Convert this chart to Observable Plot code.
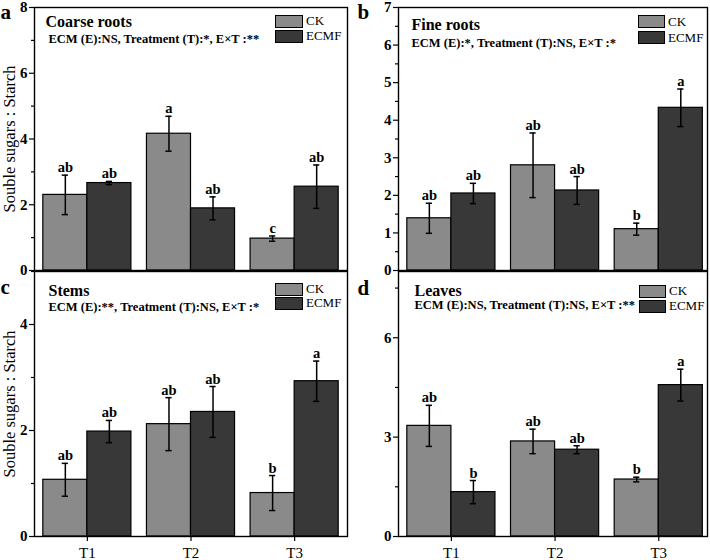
<!DOCTYPE html>
<html>
<head>
<meta charset="utf-8">
<script src="https://cdn.jsdelivr.net/npm/d3@7"></script>
<script src="https://cdn.jsdelivr.net/npm/@observablehq/plot@0.6"></script>
<style>
  body { margin: 0; background: #fff; }
  #chart { position: relative; width: 710px; height: 560px; overflow: hidden; font-family: "Liberation Serif", "Times New Roman", serif; }
  #chart svg { position: absolute; }
  .lg-box { position: absolute; border: 1px solid #000; box-sizing: border-box; }
  .lg-txt { position: absolute; font-size: 13px; color: #000; white-space: nowrap; }
</style>
</head>
<body>
<div id="chart"></div>
<script>
// ---------- data ----------
const treatments = ["T1", "T2", "T3"];
const groups = ["CK", "ECMF"];
const groupColors = ["#8a8a8a", "#383838"];

const panelLetters = ["a", "b", "c", "d"];
const titles = ["Coarse roots", "Fine roots", "Stems", "Leaves"];
const subtitles = [
  "ECM (E):NS, Treatment (T):*, E\u00d7T :**",
  "ECM (E):*, Treatment (T):NS, E\u00d7T :*",
  "ECM (E):**, Treatment (T):NS, E\u00d7T :*",
  "ECM (E):NS, Treatment (T):NS, E\u00d7T :**"
];
const yLabel = "Souble sugars : Starch";

// Coarse roots
const coarseCK = [2.30, 4.16, 0.97];
const coarseCKErr = [0.60, 0.53, 0.08];
const coarseECMF = [2.66, 1.89, 2.55];
const coarseECMFErr = [0.05, 0.35, 0.66];
const coarseCKLetters = ["ab", "a", "c"];
const coarseECMFLetters = ["ab", "ab", "ab"];
const coarseTicks = [0, 2, 4, 6, 8];
const coarseMinor = [1, 3, 5, 7];

// Fine roots
const fineCK = [1.39, 2.80, 1.10];
const fineCKErr = [0.40, 0.86, 0.16];
const fineECMF = [2.05, 2.13, 4.33];
const fineECMFErr = [0.27, 0.37, 0.50];
const fineCKLetters = ["ab", "ab", "b"];
const fineECMFLetters = ["ab", "ab", "a"];
const fineTicks = [0, 1, 2, 3, 4, 5, 6, 7];
const fineMinor = [0.5, 1.5, 2.5, 3.5, 4.5, 5.5, 6.5];

// Stems
const stemsCK = [1.07, 2.12, 0.82];
const stemsCKErr = [0.31, 0.50, 0.33];
const stemsECMF = [1.98, 2.35, 2.93];
const stemsECMFErr = [0.21, 0.48, 0.38];
const stemsCKLetters = ["ab", "ab", "b"];
const stemsECMFLetters = ["ab", "ab", "a"];
const stemsTicks = [0, 2, 4];
const stemsMinor = [1, 3, 5];

// Leaves
const leavesCK = [3.34, 2.87, 1.72];
const leavesCKErr = [0.62, 0.37, 0.07];
const leavesECMF = [1.34, 2.62, 4.57];
const leavesECMFErr = [0.35, 0.12, 0.48];
const leavesCKLetters = ["ab", "ab", "b"];
const leavesECMFLetters = ["b", "ab", "a"];
const leavesTicks = [0, 3, 6];
const leavesMinor = [1.5, 4.5, 7.5];

// ---------- layout ----------
const FONT = "'Liberation Serif', 'Times New Roman', serif";
const BAR_W = 0.425;   // bar width in x units
const CAP = 0.03;      // half cap width in x units

const panels = [
  { idx: 0, ck: coarseCK, ckErr: coarseCKErr, ec: coarseECMF, ecErr: coarseECMFErr, ckL: coarseCKLetters, ecL: coarseECMFLetters,
    ymax: 8, major: coarseTicks, minor: coarseMinor, left: 0, top: 0, width: 355, height: 275,
    mL: 34, mR: 8, mT: 7, mB: 5, xdom: [0.49, 3.51], showX: false, showYLabel: true,
    letterDx: -34, letterDy: 11, titleDx: 11, titleDy: 19, subDx: 14, subDy: 35,
    legend: { x: 275, w: 28, h: 12.5, y1: 15, y2: 30, tx: 306 } },
  { idx: 1, ck: fineCK, ckErr: fineCKErr, ec: fineECMF, ecErr: fineECMFErr, ckL: fineCKLetters, ecL: fineECMFLetters,
    ymax: 7, major: fineTicks, minor: fineMinor, left: 355, top: 0, width: 355, height: 275,
    mL: 43, mR: 3, mT: 7, mB: 5, xdom: [0.49, 3.47], showX: false, showYLabel: false,
    letterDx: -41, letterDy: 11, titleDx: 13, titleDy: 22, subDx: 13, subDy: 39,
    legend: { x: 638, w: 27, h: 13, y1: 15, y2: 31, tx: 668 } },
  { idx: 2, ck: stemsCK, ckErr: stemsCKErr, ec: stemsECMF, ecErr: stemsECMFErr, ckL: stemsCKLetters, ecL: stemsECMFLetters,
    ymax: 5, major: stemsTicks, minor: stemsMinor, left: 0, top: 266, width: 355, height: 294,
    mL: 34, mR: 8, mT: 5, mB: 24, xdom: [0.49, 3.51], showX: true, showYLabel: true,
    letterDx: -34, letterDy: 22, titleDx: 14, titleDy: 24.5, subDx: 14, subDy: 39,
    legend: { x: 275, w: 28, h: 12.5, y1: 283, y2: 297, tx: 306 } },
  { idx: 3, ck: leavesCK, ckErr: leavesCKErr, ec: leavesECMF, ecErr: leavesECMFErr, ckL: leavesCKLetters, ecL: leavesECMFLetters,
    ymax: 8, major: leavesTicks, minor: leavesMinor, left: 355, top: 266, width: 355, height: 294,
    mL: 43, mR: 3, mT: 5, mB: 24, xdom: [0.49, 3.47], showX: true, showYLabel: false,
    letterDx: -41, letterDy: 23, titleDx: 16, titleDy: 24.5, subDx: 16, subDy: 37,
    legend: { x: 639, w: 27, h: 12.5, y1: 285, y2: 300, tx: 669 } }
];

const chart = document.getElementById("chart");
const intFmt = d => String(d);

function buildPanel(cfg) {
  const rows = [];
  treatments.forEach((t, i) => {
    rows.push({ t, g: groups[0], pos: i + 1, v: cfg.ck[i], e: cfg.ckErr[i], l: cfg.ckL[i] });
    rows.push({ t, g: groups[1], pos: i + 1, v: cfg.ec[i], e: cfg.ecErr[i], l: cfg.ecL[i] });
  });
  const isCK = d => d.g === groups[0];
  const cx = d => isCK(d) ? d.pos - BAR_W / 2 : d.pos + BAR_W / 2;

  const marks = [
    Plot.rectY(rows, {
      x1: d => isCK(d) ? d.pos - BAR_W : d.pos,
      x2: d => isCK(d) ? d.pos : d.pos + BAR_W,
      y1: 0, y2: "v", fill: "g", stroke: "#000", strokeWidth: 1.2
    }),
    Plot.ruleX(rows, { x: cx, y1: d => d.v - d.e, y2: d => d.v + d.e, stroke: "#000", strokeWidth: 1.5 }),
    Plot.ruleY(rows, { y: d => d.v + d.e, x1: d => cx(d) - CAP, x2: d => cx(d) + CAP, stroke: "#000", strokeWidth: 1.5 }),
    Plot.ruleY(rows, { y: d => d.v - d.e, x1: d => cx(d) - CAP, x2: d => cx(d) + CAP, stroke: "#000", strokeWidth: 1.5 }),
    Plot.text(rows, { x: cx, y: d => d.v + d.e, text: "l", dy: -3, lineAnchor: "bottom",
      fontSize: 14.5, fontWeight: "bold", fill: "#000" }),
    Plot.frame({ stroke: "#000", strokeWidth: 1.4 }),
    Plot.axisY({ ticks: cfg.major, tickFormat: intFmt, tickSize: 5, tickPadding: 2, fontSize: 15, fontWeight: "bold", stroke: "#000", strokeWidth: 1.2 }),
    Plot.axisY({ ticks: cfg.minor, tickSize: 3, tickFormat: () => "", stroke: "#000", strokeWidth: 1.2 }),
    Plot.text([titles[cfg.idx]], { frameAnchor: "top-left", text: d => d, dx: cfg.titleDx, dy: cfg.titleDy,
      textAnchor: "start", lineAnchor: "bottom", fontSize: 16, fontWeight: "bold", fill: "#000" }),
    Plot.text([subtitles[cfg.idx]], { frameAnchor: "top-left", text: d => d, dx: cfg.subDx, dy: cfg.subDy,
      textAnchor: "start", lineAnchor: "bottom", fontSize: 12.5, fontWeight: "bold", fill: "#000" }),
    Plot.text([panelLetters[cfg.idx]], { frameAnchor: "top-left", text: d => d, dx: cfg.letterDx, dy: cfg.letterDy,
      textAnchor: "start", lineAnchor: "bottom", fontSize: 21, fontWeight: "bold", fill: "#000" })
  ];
  if (cfg.showYLabel) {
    marks.push(Plot.text([yLabel], { frameAnchor: "left", text: d => d, rotate: -90, dx: -25,
      textAnchor: "middle", lineAnchor: "middle", fontSize: 16.5, fill: "#000" }));
  }
  if (cfg.showX) {
    marks.push(Plot.axisX({ ticks: [1, 2, 3], tickFormat: i => treatments[i - 1], tickSize: 5, tickPadding: 6,
      fontSize: 15, stroke: "#000", strokeWidth: 1.2 }));
  }

  const svg = Plot.plot({
    width: cfg.width, height: cfg.height,
    marginLeft: cfg.mL, marginRight: cfg.mR, marginTop: cfg.mT, marginBottom: cfg.mB,
    style: { fontFamily: FONT, background: "transparent", overflow: "visible", color: "#000" },
    x: { domain: cfg.xdom, label: null, axis: cfg.showX ? undefined : null },
    y: { domain: [0, cfg.ymax], label: null },
    color: { domain: groups, range: groupColors },
    marks
  });
  svg.style.left = cfg.left + "px";
  svg.style.top = cfg.top + "px";
  svg.style.position = "absolute";
  chart.appendChild(svg);

  // legend (HTML swatches)
  const L = cfg.legend;
  [L.y1, L.y2].forEach((y, k) => {
    const box = document.createElement("div");
    box.className = "lg-box";
    Object.assign(box.style, { left: L.x + "px", top: y + "px", width: L.w + "px", height: L.h + "px", background: groupColors[k] });
    chart.appendChild(box);
    const txt = document.createElement("div");
    txt.className = "lg-txt";
    txt.textContent = groups[k];
    Object.assign(txt.style, { left: L.tx + "px", top: y + "px", height: L.h + "px", lineHeight: L.h + "px" });
    chart.appendChild(txt);
  });
}

panels.forEach(buildPanel);
</script>
</body>
</html>
